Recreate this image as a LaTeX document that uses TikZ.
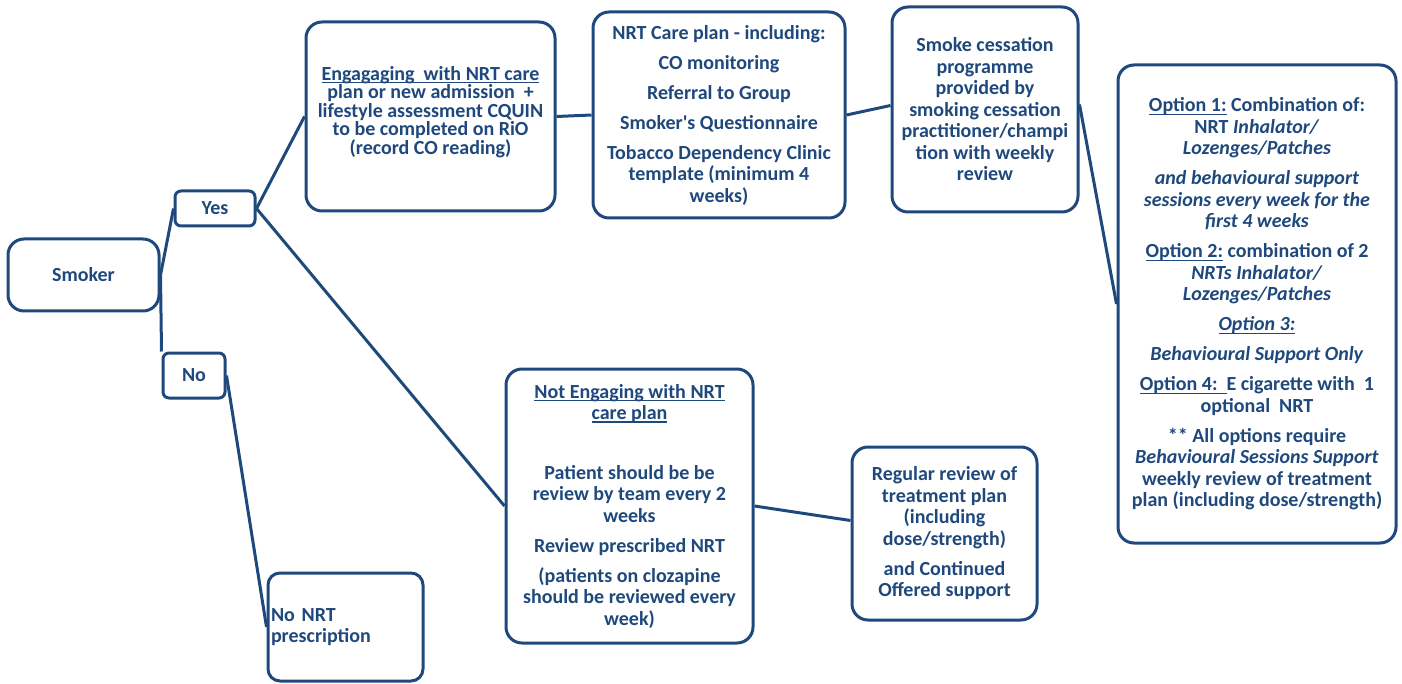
\documentclass[tikz,border=0pt]{standalone}
\usepackage{fontspec}
\setmainfont{Carlito}
\usepackage{xcolor}
\usetikzlibrary{positioning}
\definecolor{nrtblue}{RGB}{31,73,125}
% underline at a fixed depth, through the descenders
\newcommand{\uln}[1]{\begingroup\setbox0\hbox{#1}\rlap{\rule[-3pt]{\wd0}{1.3pt}}\box0\endgroup}

\begin{document}
\begin{tikzpicture}[
        x=1pt, y=-1pt,
        box/.style={draw=nrtblue, line width=3pt, rounded corners=16pt, align=center, text=nrtblue, fill=white, inner sep=0pt, font=\fontsize{20}{21.5}\selectfont\bfseries},
        smallbox/.style={box, rounded corners=6pt},
        link/.style={draw=nrtblue, line width=3pt}
    ]
    \useasboundingbox (0,0) rectangle (1402,684);

    \node[box, minimum width=151pt, minimum height=72pt] (smoker) at (83.5,275) {Smoker};
    \node[smallbox, minimum width=80pt, minimum height=35pt] (yes) at (215,208.5) {Yes};
    \node[smallbox, minimum width=62pt, minimum height=45pt] (no) at (194,375.5) {No};
    \node[box, rounded corners=12pt, minimum width=155pt, minimum height=108pt, text width=149pt, inner xsep=3pt, align=left] (nonrt) at (345.5,627) {No NRT\\prescription};

    \node[box, minimum width=249pt, minimum height=189pt, font=\fontsize{20}{18.5}\selectfont\bfseries] (engage) at (430.5,116.5)
        {\uln{Engagaging\ \ with NRT care}\\ plan or new admission\ \ +\\ lifestyle assessment CQUIN\\ to be completed on RiO\\ (record CO reading)\\[-5.5pt]};
    \node[box, minimum width=252pt, minimum height=206pt] (careplan) at (719,115)
        {NRT Care plan - including:\\[8.5pt] CO monitoring\\[8.5pt] Referral to Group\\[8.5pt] Smoker\textquotesingle s Questionnaire\\[8.5pt] Tobacco Dependency Clinic\\ template (minimum 4\\ weeks)};
    \node[box, minimum width=186pt, minimum height=205pt] (cessation) at (985,109.5)
        {Smoke cessation\\ programme\\ provided by\\ smoking cessation\\ practitioner/champi\\ tion with weekly\\ review};
    \node[box, minimum width=278pt, minimum height=478pt] (options) at (1257,304)
        {\uln{Option 1:} Combination of:\\ NRT \textit{Inhalator/}\\ \textit{Lozenges/Patches}\\[8.5pt]
         \textit{and behavioural support}\\ \textit{sessions every week for the}\\ \textit{first 4 weeks}\\[8.5pt]
         \uln{Option 2:} combination of 2\\ \textit{NRTs Inhalator/}\\ \textit{Lozenges/Patches}\\[8.5pt]
         \uln{\textit{Option 3:}}\\[8.5pt]
         \textit{Behavioural Support Only}\\[8.5pt]
         \uln{Option 4:\ \ }E cigarette with\ \ 1\\ optional\ \ NRT\\[8.5pt]
         ** All options require\\ \textit{Behavioural Sessions Support}\\ weekly review of treatment\\ plan (including dose/strength)};

    \node[box, minimum width=247pt, minimum height=274pt] (notengage) at (629.5,506)
        {\uln{Not Engaging with NRT}\\ \uln{care plan}\\[38pt]
         Patient should be be\\ review by team every 2\\ weeks\\[8.5pt]
         Review prescribed NRT\\[8.5pt]
         (patients on clozapine\\ should be reviewed every\\ week)};
    \node[box, minimum width=185pt, minimum height=173pt] (review) at (944.5,533.5)
        {Regular review of\\ treatment plan\\ (including\\ dose/strength)\\[8.5pt] and Continued\\ Offered support};

    % branches out of Smoker
    \draw[link] (smoker.east) -- (yes.west);
    \draw[link] (smoker.east) -- (no.north west);
    \draw[link] (no.east) -- (nonrt.west);

    % engaging path
    \draw[link] (yes.east) -- (engage.west);
    \draw[link] (engage.east) -- (careplan.west);
    \draw[link] (careplan.east) -- ([yshift=4pt]cessation.west);
    \draw[link] ([yshift=5pt]cessation.east) -- (options.west);

    % not engaging path
    \draw[link] (yes.east) -- (notengage.west);
    \draw[link] (notengage.east) -- ([yshift=13pt]review.west);

\end{tikzpicture}
\end{document}
